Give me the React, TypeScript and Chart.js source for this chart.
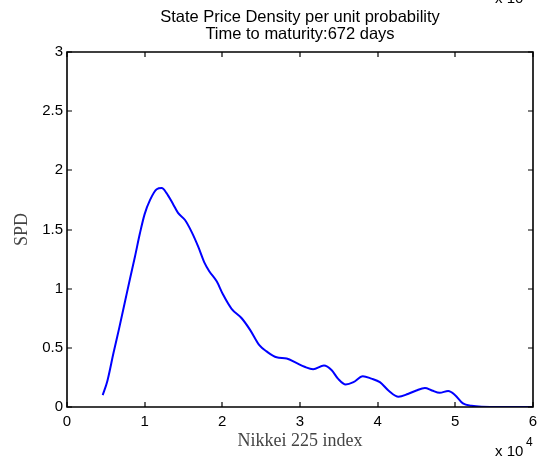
import React, { useEffect, useRef } from "react";
import { Chart, registerables } from "chart.js";

Chart.register(...registerables);

// Nikkei 225 index level (x 10^4)
const indexLevels: number[] = [
  0.46, 0.52, 0.6, 0.67, 0.75, 0.81, 0.875, 0.94, 1.0, 1.07, 1.155, 1.22, 1.28, 1.37, 1.43, 1.52,
  1.605, 1.69, 1.77, 1.83, 1.93, 2.01, 2.12, 2.25, 2.36, 2.48, 2.57, 2.7, 2.83, 2.96, 3.06, 3.17,
  3.31, 3.41, 3.49, 3.59, 3.69, 3.81, 3.92, 4.03, 4.14, 4.27, 4.39, 4.5, 4.61, 4.7, 4.8, 4.91, 5.0,
  5.1, 5.21, 5.34, 5.6, 6.0,
];
// State price density per unit probability
const spdValues: number[] = [
  0.1, 0.22, 0.46, 0.66, 0.9, 1.08, 1.27, 1.47, 1.63, 1.75, 1.84, 1.85, 1.81, 1.71, 1.64, 1.58,
  1.48, 1.355, 1.22, 1.15, 1.06, 0.95, 0.83, 0.75, 0.65, 0.52, 0.47, 0.42, 0.41, 0.37, 0.34, 0.32,
  0.35, 0.31, 0.24, 0.19, 0.21, 0.26, 0.24, 0.21, 0.14, 0.087, 0.11, 0.14, 0.16, 0.14, 0.12, 0.135,
  0.1, 0.03, 0.01, 0.002, 0, 0,
];
const xTickValues: number[] = [0, 1, 2, 3, 4, 5, 6];
const yTickValues: number[] = [0, 0.5, 1, 1.5, 2, 2.5, 3];
const titleLines: string[] = ["State Price Density per unit probability", "Time to maturity:672 days"];
const xAxisLabel = "Nikkei 225 index";
const yAxisLabel = "SPD";

const SANS = "'Liberation Sans', Arial, sans-serif";
const SERIF = "'Liberation Serif', 'Times New Roman', serif";

const matlabFrame = {
  id: "matlabFrame",
  afterDraw(chart: any) {
    const ctx: CanvasRenderingContext2D = chart.ctx;
    const area = chart.chartArea;
    const left = Math.round(area.left);
    const right = Math.round(area.right);
    const top = Math.round(area.top);
    const bottom = Math.round(area.bottom);
    const xs = chart.scales.x;
    const ys = chart.scales.y;
    ctx.save();
    ctx.setTransform(1, 0, 0, 1, 0, 0);
    ctx.globalAlpha = 1;
    ctx.globalCompositeOperation = "source-over";
    ctx.setLineDash([]);
    ctx.strokeStyle = "#000000";
    ctx.lineWidth = 1.6;
    ctx.lineCap = "butt";
    ctx.beginPath();
    ctx.moveTo(left, top);
    ctx.lineTo(right, top);
    ctx.lineTo(right, bottom);
    ctx.lineTo(left, bottom);
    ctx.closePath();
    ctx.stroke();
    // inward ticks on all sides
    const tl = 5;
    ctx.lineWidth = 1.2;
    ctx.beginPath();
    xTickValues.forEach((v) => {
      const px = Math.round(xs.getPixelForValue(v));
      ctx.moveTo(px, bottom);
      ctx.lineTo(px, bottom - tl);
      ctx.moveTo(px, top);
      ctx.lineTo(px, top + tl);
    });
    yTickValues.forEach((v) => {
      const py = Math.round(ys.getPixelForValue(v));
      ctx.moveTo(left, py);
      ctx.lineTo(left + tl, py);
      ctx.moveTo(right, py);
      ctx.lineTo(right - tl, py);
    });
    ctx.stroke();

    const cx = (left + right) / 2;
    const cy = (top + bottom) / 2;
    // title
    ctx.fillStyle = "#000";
    ctx.font = `16.5px ${SANS}`;
    ctx.textAlign = "center";
    ctx.textBaseline = "alphabetic";
    ctx.fillText(titleLines[0], cx, 22);
    ctx.fillText(titleLines[1], cx, 39);
    // axis labels
    ctx.fillStyle = "#444";
    ctx.font = `18px ${SERIF}`;
    ctx.fillText(xAxisLabel, cx, 446);
    ctx.save();
    ctx.translate(27, cy);
    ctx.rotate(-Math.PI / 2);
    ctx.fillText(yAxisLabel, 0, 0);
    ctx.restore();
    // exponent
    ctx.fillStyle = "#000";
    ctx.textAlign = "left";
    ctx.font = `15px ${SANS}`;
    ctx.fillText("x 10", 495, 456);
    ctx.font = `12px ${SANS}`;
    ctx.fillText("4", 526, 446);
    ctx.font = `15px ${SANS}`;
    ctx.fillText("x 10", 495, 3);
    ctx.restore();
  },
};

export default function App() {
  const ref = useRef<HTMLCanvasElement | null>(null);
  useEffect(() => {
    if (!ref.current) return;
    const chart = new Chart(ref.current, {
      type: "line",
      data: {
        datasets: [
          {
            data: indexLevels.map((x, i) => ({ x, y: spdValues[i] })),
            borderColor: "#0000FF",
            borderWidth: 2,
            pointRadius: 0,
            fill: false,
            cubicInterpolationMode: "monotone",
          },
        ],
      },
      options: {
        responsive: false,
        animation: false,
        events: [],
        layout: { padding: { top: 52, right: 10, left: 0, bottom: 0 } },
        plugins: { legend: { display: false }, title: { display: false }, tooltip: { enabled: false } },
        scales: {
          x: {
            type: "linear",
            min: 0,
            max: 6,
            afterFit: (s: any) => {
              s.height = 55;
            },
            afterBuildTicks: (s: any) => {
              s.ticks = xTickValues.map((v) => ({ value: v }));
            },
            grid: { display: false, drawTicks: false },
            border: { display: false },
            ticks: {
              color: "#000",
              font: { family: SANS, size: 15 },
              padding: 6,
              maxRotation: 0,
              callback: (v: any) => String(v),
            },
          },
          y: {
            type: "linear",
            min: 0,
            max: 3,
            afterFit: (s: any) => {
              s.width = 67;
            },
            afterBuildTicks: (s: any) => {
              s.ticks = yTickValues.map((v) => ({ value: v }));
            },
            grid: { display: false, drawTicks: false },
            border: { display: false },
            ticks: {
              color: "#000",
              font: { family: SANS, size: 15 },
              padding: 4,
              callback: (v: any) => String(v),
            },
          },
        },
      },
      plugins: [matlabFrame],
    });
    return () => chart.destroy();
  }, []);
  return (
    <div style={{ position: "absolute", left: 0, top: 0, width: 543, height: 462, background: "#fff" }}>
      <canvas ref={ref} width={543} height={462} style={{ display: "block" }} />
    </div>
  );
}
